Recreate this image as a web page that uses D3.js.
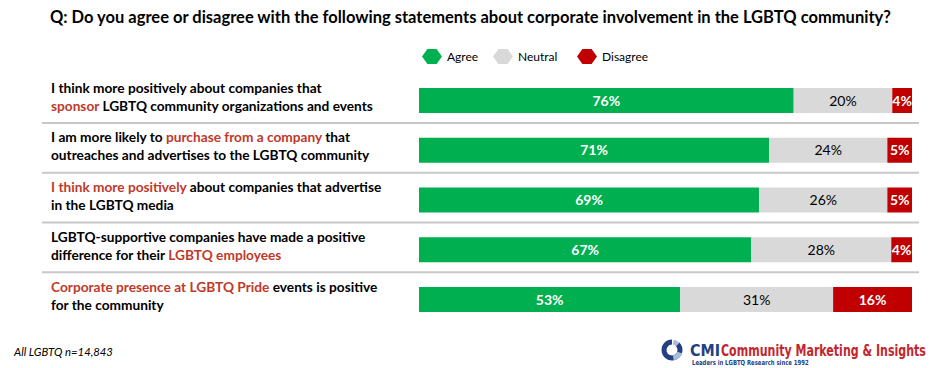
<!DOCTYPE html>
<html>
<head>
<meta charset="utf-8">
<script src="https://cdn.jsdelivr.net/npm/d3@7"></script>
<style>
  html, body { margin: 0; padding: 0; background: #fff; }
  svg { display: block; }
</style>
</head>
<body>
<svg id="chart" width="936" height="368"></svg>
<script>
// ---- Data ----
const title = "Q: Do you agree or disagree with the following statements about corporate involvement in the LGBTQ community?";
const seriesNames = ["Agree", "Neutral", "Disagree"];
const seriesColors = ["#00B050", "#D9D9D9", "#C00000"];
// Each statement: lines of [text, highlighted?] segments
const statements = [
  [[["I think more positively about companies that", false]],
   [["sponsor", true], [" LGBTQ community organizations and events", false]]],
  [[["I am more likely to ", false], ["purchase from a company", true], [" that", false]],
   [["outreaches and advertises to the LGBTQ community", false]]],
  [[["I think more positively", true], [" about companies that advertise", false]],
   [["in the LGBTQ media", false]]],
  [[["LGBTQ-supportive companies have made a positive", false]],
   [["difference for their ", false], ["LGBTQ employees", true]]],
  [[["Corporate presence at LGBTQ Pride", true], [" events is positive", false]],
   [["for the community", false]]]
];
// values; labels show the rounded percentages
const agree    = [76, 71, 69, 67.4, 53];
const neutral  = [20, 24, 26, 28.4, 31];
const disagree = [4, 5, 5, 4.2, 16];
const footnote = "All LGBTQ n=14,843";

// ---- Layout ----
const svg = d3.select("#chart");
const x = d3.scaleLinear().domain([0, 100]).range([419, 912]);
const y = d3.scalePoint().domain(d3.range(statements.length)).range([100.5, 299.5]);
const barH = 25;
const hiColor = "#C0392B";
const font = "Lato, 'Open Sans', sans-serif";

// Title
const t = svg.append("text")
  .attr("x", 50).attr("y", 23)
  .attr("font-family", font).attr("font-weight", "bold")
  .attr("font-size", 15.5).attr("fill", "#000")
  .text(title);
(function(){ const w = t.node().getComputedTextLength(); t.attr("font-size", 15.5 * 841 / w); })();

// Legend
const legendX = [422, 493, 577];
const hex = (cx, cy, w, h) => {
  const a = w/2, b = h/2, k = w*0.27;
  return [[cx-a, cy],[cx-a+k, cy-b],[cx+a-k, cy-b],[cx+a, cy],[cx+a-k, cy+b],[cx-a+k, cy+b]];
};
const leg = svg.append("g");
seriesNames.forEach((s, i) => {
  leg.append("polygon")
    .attr("points", hex(legendX[i] + 10, 56.5, 20, 15).map(p => p.join(",")).join(" "))
    .attr("fill", seriesColors[i]);
  leg.append("text")
    .attr("x", legendX[i] + 25).attr("y", 61)
    .attr("font-family", font).attr("font-size", 12).attr("fill", "#000")
    .text(s);
});

// Separators
svg.append("g").selectAll("line")
  .data(d3.range(statements.length - 1))
  .join("line")
  .attr("x1", 42).attr("x2", 919)
  .attr("y1", i => y(i) + 22.5).attr("y2", i => y(i) + 22.5)
  .attr("stroke", "#C8C8C8").attr("stroke-width", 2);

// Statement labels
const lab = svg.append("g");
statements.forEach((lines, i) => {
  lines.forEach((segs, j) => {
    const tx = lab.append("text")
      .attr("x", 51).attr("y", y(i) - 8 + j * 18)
      .attr("font-family", font).attr("font-weight", "bold")
      .attr("font-size", 13.7);
    segs.forEach(([txt, hi]) => {
      tx.append("tspan").attr("fill", hi ? hiColor : "#000").text(txt);
    });
  });
});

// Stacked bars
const stackData = statements.map((_, i) => {
  let c = 0;
  return [agree[i], neutral[i], disagree[i]].map((v, k) => {
    const s = { i, k, v, x0: c, x1: c + v }; c += v; return s;
  });
}).flat();

const bars = svg.append("g");
bars.selectAll("rect")
  .data(stackData)
  .join("rect")
  .attr("x", d => x(d.x0))
  .attr("width", d => x(d.x1) - x(d.x0))
  .attr("y", d => y(d.i) - barH / 2)
  .attr("height", barH)
  .attr("fill", d => seriesColors[d.k]);

bars.selectAll("text")
  .data(stackData)
  .join("text")
  .attr("x", d => (x(d.x0) + x(d.x1)) / 2)
  .attr("y", d => y(d.i) + 5)
  .attr("text-anchor", "middle")
  .attr("font-family", font)
  .attr("font-size", 14)
  .attr("font-weight", d => d.k === 1 ? "normal" : "bold")
  .attr("fill", d => d.k === 1 ? "#000" : "#fff")
  .text(d => Math.round(d.v) + "%");

// Footnote
svg.append("text")
  .attr("x", 14).attr("y", 356)
  .attr("font-family", font).attr("font-style", "italic")
  .attr("font-size", 11.3).attr("fill", "#000")
  .text(footnote);

// Logo
const logo = svg.append("g");
const arc = d3.arc().innerRadius(5.5).outerRadius(10.5);
logo.append("path").attr("transform", "translate(672,350)")
  .attr("d", arc({ startAngle: Math.PI * 0.25, endAngle: Math.PI * 2 }))
  .attr("fill", "#253F82");
logo.append("path").attr("transform", "translate(672,350)")
  .attr("d", arc({ startAngle: Math.PI * 0.05, endAngle: Math.PI * 0.25 }))
  .attr("fill", "#A9BCDB");
logo.append("path").attr("transform", "translate(672,350)")
  .attr("d", arc({ startAngle: Math.PI * 0.6, endAngle: Math.PI * 0.95 }))
  .attr("fill", "#A9BCDB");

function fitText(txt, x0, y0, size, color, width) {
  const el = logo.append("text")
    .attr("font-family", "'DejaVu Sans Condensed', sans-serif").attr("font-weight", "bold")
    .attr("font-size", size).attr("fill", color).text(txt);
  const w = el.node().getComputedTextLength();
  el.attr("transform", `translate(${x0},${y0}) scale(${width / w},1)`);
}
fitText("CMI", 690, 356, 16, "#253F82", 30);
fitText("Community Marketing & Insights", 721, 356, 16, "#C1272D", 205);
fitText("Leaders in LGBTQ Research since 1992", 692, 364.5, 7, "#253F82", 117);
</script>
</body>
</html>
